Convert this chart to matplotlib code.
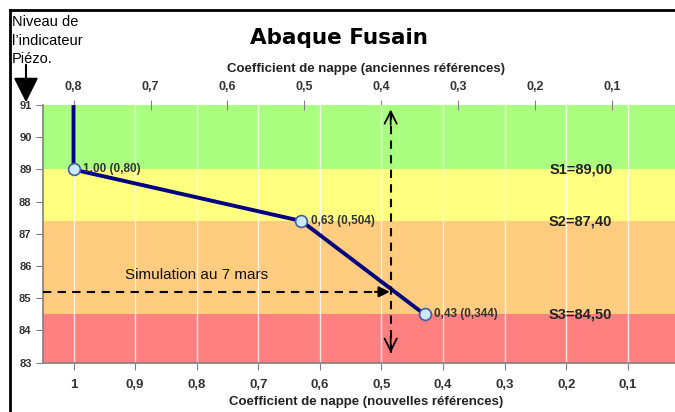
import matplotlib

matplotlib.use("Agg")
import matplotlib.pyplot as plt
from matplotlib.patches import FancyArrowPatch
from matplotlib.ticker import FuncFormatter
from matplotlib.lines import Line2D

plt.rcParams["font.family"] = ["Liberation Sans", "DejaVu Sans"]

# Courbe de l'abaque (coefficient nouvelles références / niveau piézo)
coef_new = [1.0, 1.0, 0.63, 0.43]
level = [91.0, 89.0, 87.4, 84.5]
ratio_old = 0.8  # anciennes = nouvelles * 0.8

# Seuils
seuil_names = ["S1", "S2", "S3"]
seuil_levels = [89.0, 87.4, 84.5]

# Bandes de couleur (bas, haut, couleur)
band_edges = [83.0, 84.5, 87.4, 89.0, 91.0]
band_colors = ["#FF8080", "#FFCC80", "#FFFF80", "#AAFF80"]

# Simulation au 7 mars
sim_level = 85.2
sim_coef = 0.485

bottom_ticks = [1.0, 0.9, 0.8, 0.7, 0.6, 0.5, 0.4, 0.3, 0.2, 0.1]
top_ticks = [0.8, 0.7, 0.6, 0.5, 0.4, 0.3, 0.2, 0.1]
y_ticks = [83, 84, 85, 86, 87, 88, 89, 90, 91]


def fr(v):
    s = f"{v:.1f}".replace(".", ",")
    return "1" if s == "1,0" else s


def fr_coef(v):
    # au moins deux décimales, trois si besoin
    s = f"{v:.3f}"
    if s.endswith("0"):
        s = s[:-1]
    return s.replace(".", ",")


fig = plt.figure(figsize=(6.75, 4.12), dpi=100)
ax = fig.add_axes([0.0633, 0.1197, 0.958, 0.6252])

for lo, hi, c in zip(band_edges[:-1], band_edges[1:], band_colors):
    ax.axhspan(lo, hi, color=c, lw=0, zorder=0)

ax.set_xlim(1.05, 0.0)
ax.set_ylim(83, 91)
ax.set_xticks(bottom_ticks)
ax.xaxis.set_major_formatter(FuncFormatter(lambda v, p: fr(v)))
ax.set_yticks(y_ticks)
ax.grid(axis="x", color="white", lw=1, alpha=0.8, zorder=1)
ax.set_axisbelow(True)

for side in ["top", "right"]:
    ax.spines[side].set_visible(False)
for side in ["left", "bottom"]:
    ax.spines[side].set_color("#808080")
    ax.spines[side].set_linewidth(1.2)

ax.tick_params(axis="x", colors="#808080", labelcolor="#333333", length=5,
               labelsize=9.5, pad=7)
ax.tick_params(axis="y", colors="#808080", labelcolor="#333333", length=5,
               labelsize=8, pad=3)
for lbl in ax.get_xticklabels() + ax.get_yticklabels():
    lbl.set_fontweight("bold")
ax.set_xlabel("Coefficient de nappe (nouvelles références)", fontsize=9.5,
              fontweight="bold", color="#222222", labelpad=3)

sec = ax.secondary_xaxis("top", functions=(lambda x: x * ratio_old,
                                            lambda x: x / ratio_old))
sec.set_xticks(top_ticks)
sec.xaxis.set_major_formatter(FuncFormatter(lambda v, p: fr(v)))
sec.spines["top"].set_visible(False)
sec.tick_params(axis="x", colors="#808080", labelcolor="#333333", length=7,
                direction="inout", labelsize=9, pad=5)
for lbl in sec.get_xticklabels():
    lbl.set_fontweight("bold")
sec.set_xlabel("Coefficient de nappe (anciennes références)", fontsize=9.5,
               fontweight="bold", color="#222222", labelpad=7)

# courbe
ax.plot(coef_new, level, color="#000080", lw=2.8, zorder=4, solid_capstyle="butt")
ax.plot(coef_new[1:], level[1:], ls="none", marker="o", ms=8.5,
        mfc="#CCE8FF", mec="#40609A", mew=1.2, zorder=5)
for x, y in zip(coef_new[1:], level[1:]):
    ax.annotate(f"{x:.2f}".replace(".", ",") + f" ({fr_coef(x * ratio_old)})",
                (x, y), xytext=(7, 0), textcoords="offset points",
                va="center", ha="left", fontsize=8.5, fontweight="bold",
                color="#333333", zorder=6)

for name, s in zip(seuil_names, seuil_levels):
    ax.text(0.125, s, f"{name}={s:.2f}".replace(".", ","), ha="right",
            va="center", fontsize=10.5, fontweight="bold", color="#222222",
            zorder=6)

# simulation : flèches en pointillés
ax.plot([1.05, sim_coef + 0.01], [sim_level, sim_level], color="black",
        ls=(0, (4, 3)), lw=1.5, zorder=6)
ax.annotate("", xy=(sim_coef - 0.003, sim_level), xytext=(sim_coef + 0.03, sim_level),
            arrowprops=dict(arrowstyle="-|>", color="black", lw=1.5,
                            mutation_scale=16), zorder=7)
ax.plot([sim_coef, sim_coef], [83.3, 90.9], color="black", ls=(0, (4, 3)),
        lw=1.5, zorder=6)
ax.annotate("", xy=(sim_coef, 90.95), xytext=(sim_coef, 90.3),
            arrowprops=dict(arrowstyle="->", color="black", lw=1.3,
                            mutation_scale=22), zorder=7)
ax.annotate("", xy=(sim_coef, 83.22), xytext=(sim_coef, 83.9),
            arrowprops=dict(arrowstyle="->", color="black", lw=1.3,
                            mutation_scale=22), zorder=7)
ax.text(0.8, 85.72, "Simulation au 7 mars", ha="center", va="center",
        fontsize=11, color="#111111", zorder=6)

# titre et annotations hors du graphique
fig.text(339 / 675, 1 - 38 / 412, "Abaque Fusain", ha="center", va="center",
         fontsize=15.5, fontweight="bold", family=["DejaVu Sans"])
fig.text(12 / 675, 1 - 15 / 412, "Niveau de\nl’indicateur\nPiézo.", ha="left",
         va="top", fontsize=10.5, linespacing=1.42)
fig.patches.append(FancyArrowPatch(
    (26 / 675, 1 - 62 / 412), (26 / 675, 1 - 105 / 412), transform=fig.transFigure,
    arrowstyle="-|>", mutation_scale=38, color="black", lw=1.5))

# cadre
fig.add_artist(Line2D([10 / 675, 10 / 675], [0, 1 - 10 / 412], color="black",
                      lw=2, transform=fig.transFigure))
fig.add_artist(Line2D([10 / 675, 1], [1 - 10 / 412, 1 - 10 / 412], color="black",
                      lw=2, transform=fig.transFigure))

fig.savefig("out.png", dpi=100)
